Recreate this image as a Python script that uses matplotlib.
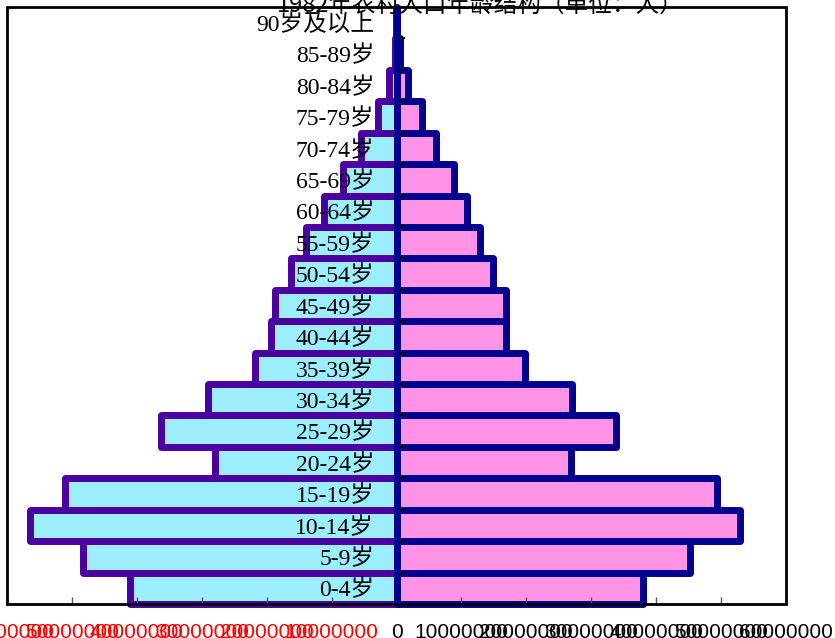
import numpy as np
import matplotlib.pyplot as plt
from matplotlib.patches import Rectangle

plt.rcParams['font.family'] = ['Noto Sans CJK SC', 'DejaVu Sans']

# 年龄组（从下到上）
groups = ['0-4岁', '5-9岁', '10-14岁', '15-19岁', '20-24岁', '25-29岁', '30-34岁',
          '35-39岁', '40-44岁', '45-49岁', '50-54岁', '55-59岁', '60-64岁',
          '65-69岁', '70-74岁', '75-79岁', '80-84岁', '85-89岁', '90岁及以上']

# 左侧（男）与右侧（女），单位：人
male = [41000000, 48300000, 56500000, 51100000, 27900000, 36300000, 29000000,
        21800000, 19400000, 18700000, 16300000, 14000000, 11100000,
        8300000, 5400000, 2900000, 1200000, 300000, 40000]
female = [37900000, 45200000, 52900000, 49300000, 26900000, 33800000, 27000000,
          19800000, 16800000, 16800000, 14900000, 12900000, 10850000,
          8800000, 6150000, 3900000, 1700000, 500000, 100000]

xticks = [-60000000, -50000000, -40000000, -30000000, -20000000, -10000000, 0,
          10000000, 20000000, 30000000, 40000000, 50000000, 60000000]

fig = plt.figure(figsize=(8.35, 6.38), dpi=100)
ax = fig.add_axes([7/835, 34/638, 779/835, 597/638])

y = np.arange(len(groups))
ax.barh(y, [-v for v in male], height=1.0, color='#9CEEFC', edgecolor='#4B00A0',
        linewidth=5.0, joinstyle='round', clip_on=False, zorder=1)
ax.barh(y, female, height=1.0, color='#FF94E6', edgecolor='#000090',
        linewidth=5.0, joinstyle='round', clip_on=False, zorder=1.1)

ax.set_xlim(-60000000, 60000000)
ax.set_ylim(-0.5, len(groups) - 0.5)

# 坐标轴：纵轴放在0处
for s in ['top', 'right', 'bottom']:
    ax.spines[s].set_visible(False)
ax.spines['left'].set_position(('data', 0))
ax.spines['left'].set_color('#000090')
ax.spines['left'].set_linewidth(2)

ax.set_yticks(np.arange(-0.5, len(groups), 1))
ax.set_yticklabels([])
ax.set_yticks(y, labels=groups, minor=True)
ax.tick_params(axis='y', which='major', direction='in', length=6, width=1.5, color='black')
ax.tick_params(axis='y', which='minor', length=0, pad=16, labelsize=17)
for lab in ax.get_yticklabels(minor=True):
    lab.set_fontfamily(['Liberation Serif', 'Noto Sans CJK SC'])

ax.set_xticks(xticks, labels=[str(abs(v)) for v in xticks])
ax.tick_params(axis='x', direction='in', length=5, width=1, color='#555555',
               labelsize=15, pad=14)
for lab, v in zip(ax.get_xticklabels(), xticks):
    lab.set_fontfamily(['Liberation Sans', 'DejaVu Sans'])
    lab.set_color('red' if v < 0 else 'black')

# 外框
ax.add_patch(Rectangle((0, 0), 1, 1, transform=ax.transAxes, fill=False,
                       edgecolor='black', linewidth=2, zorder=5, clip_on=False))

fig.text(480/835, 1 - 5/638, '1982年农村人口年龄结构（单位：人）', ha='center', va='center',
         fontsize=17, zorder=0)

fig.savefig('out.png', dpi=100)
